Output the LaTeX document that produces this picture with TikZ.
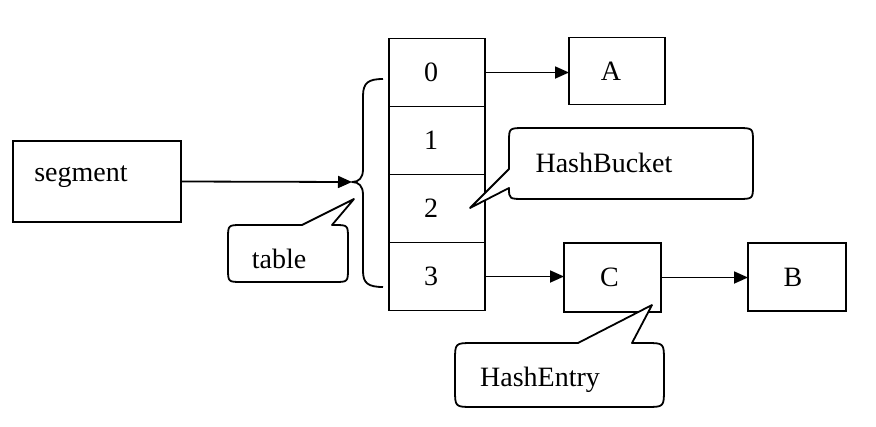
\documentclass[tikz,border=0pt]{standalone}
\usepackage{fontspec}
\setmainfont{Liberation Serif}
\usetikzlibrary{arrows.meta}
\begin{document}
\begin{tikzpicture}[x=1pt,y=-1pt,
  every node/.style={font=\fontsize{28}{32}\selectfont},
  box/.style={draw,line width=1.8pt,inner sep=0pt,outer sep=0pt},
  lbl/.style={inner sep=0pt},
  arr/.style={line width=1.8pt,-{Triangle[length=14pt,width=12pt]}},
  shape line/.style={line width=1.8pt,line join=round}]
\useasboundingbox (0,0) rectangle (876,426);
% segment
\node[box,minimum width=168pt,minimum height=81pt] (segment) at (97,181.5) {};
\node[lbl] (segtext) at (81,177) {segment};
% table cells
\node[box,minimum width=96pt,minimum height=68pt] (cell0) at (437,72.5) {};
\node[box,minimum width=96pt,minimum height=68pt,anchor=north] (cell1) at (cell0.south) {};
\node[box,minimum width=96pt,minimum height=68pt,anchor=north] (cell2) at (cell1.south) {};
\node[box,minimum width=96pt,minimum height=68pt,anchor=north] (cell3) at (cell2.south) {};
\node[lbl] at ([xshift=-6pt]cell0.center) {0};
\node[lbl] at ([xshift=-6pt]cell1.center) {1};
\node[lbl] at ([xshift=-6pt]cell2.center) {2};
\node[lbl] at ([xshift=-6pt]cell3.center) {3};
% entries
\node[box,minimum width=96pt,minimum height=67pt] (A) at (617,71) {};
\node[lbl] at ([xshift=-6pt]A.center) {A};
\node[box,minimum width=97pt,minimum height=69pt] (C) at (612.5,277.5) {};
\node[lbl] at ([xshift=-3pt]C.center) {C};
\node[box,minimum width=98pt,minimum height=68pt] (B) at (797,277) {};
\node[lbl] at ([xshift=-4pt]B.center) {B};
% brace
\coordinate (bracetip) at (352,182);
\draw[shape line] (383,79) .. controls (368,79) and (363,83) .. (363,96)
  -- (363,169) .. controls (363,178) and (359,182) .. (bracetip)
  .. controls (359,182) and (363,186) .. (363,195)
  -- (363,271) .. controls (363,283) and (368,287) .. (383,287);
% arrows
\draw[arr] (segment.east) -- (bracetip);
\draw[arr] (cell0.east) -- (A.west |- cell0.east);
\draw[arr] (cell3.east) -- (C.west |- cell3.east);
\draw[arr] (C.east) -- (B.west |- C.east);
% callout: table
\draw[shape line,fill=white] (302,225) -- (354,199) -- (332,225) -- (334,225)
  .. controls (348,225) .. (348,239) -- (348,268) .. controls (348,282) .. (334,282)
  -- (242,282) .. controls (228,282) .. (228,268) -- (228,239)
  .. controls (228,225) .. (242,225) -- cycle;
\node[lbl] (tabletext) at (279,259) {table};
% callout: HashBucket
\draw[shape line,fill=white] (509,169) -- (470,208) -- (509,188)
  .. controls (509,199) .. (525,199) -- (737,199) .. controls (753,199) .. (753,185)
  -- (753,142) .. controls (753,128) .. (737,128) -- (525,128)
  .. controls (509,128) .. (509,142) -- cycle;
\node[lbl] (buckettext) at (604,163) {HashBucket};
% callout: HashEntry
\draw[shape line,fill=white] (578,343) -- (652,305) -- (632,343) -- (646,343)
  .. controls (664,343) .. (664,361) -- (664,389) .. controls (664,407) .. (646,407)
  -- (473,407) .. controls (455,407) .. (455,389) -- (455,361)
  .. controls (455,343) .. (473,343) -- cycle;
\node[lbl] (entrytext) at (540,380) {HashEntry};
\end{tikzpicture}
\end{document}
